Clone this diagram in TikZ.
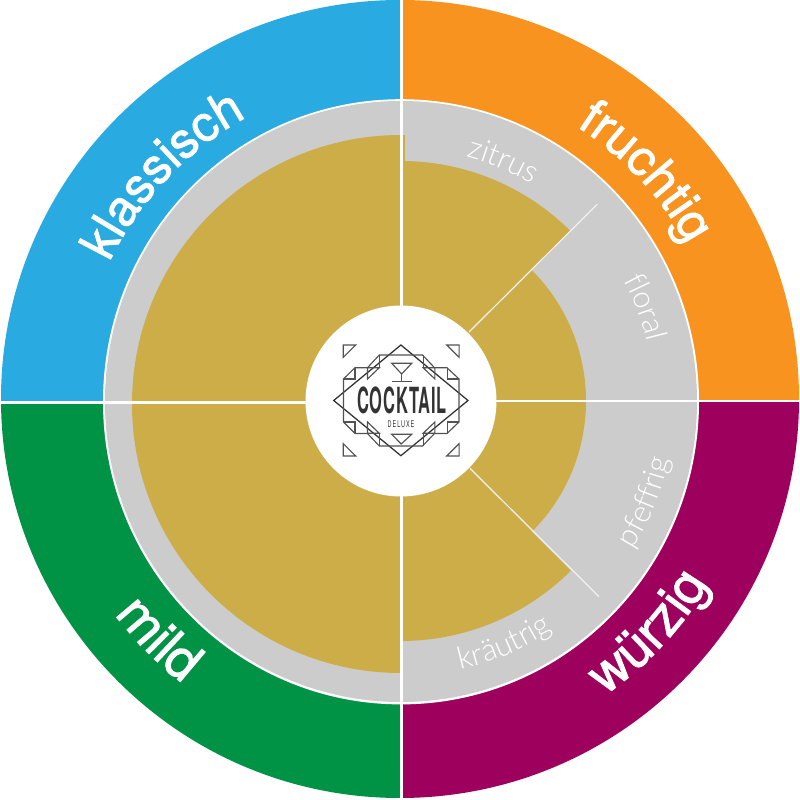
\documentclass[tikz,border=0pt]{standalone}
\usepackage{fontspec}
\setmainfont{TeX Gyre Heros}
\newfontfamily\heavyface[FakeBold=1.6]{TeX Gyre Heros}
\newfontfamily\lightface[UprightFont=* Light]{Lato}
\newfontfamily\logoface[LetterSpace=5]{TeX Gyre Heros Bold}
\newfontfamily\logosmall[LetterSpace=18]{TeX Gyre Heros}
\usetikzlibrary{decorations.text}
\definecolor{cblue}{HTML}{29ABE2}
\definecolor{corange}{HTML}{F7931E}
\definecolor{cgreen}{HTML}{009245}
\definecolor{cpurple}{HTML}{9E005D}
\definecolor{cgray}{HTML}{CCCCCC}
\definecolor{cgold}{HTML}{CCAD48}
\definecolor{cink}{HTML}{333333}
\definecolor{cpale}{HTML}{F1F1F1}
\def\bigfont{\color{white}\heavyface\fontsize{37.5}{37.5}\selectfont}
\def\bigfontb{\color{white}\heavyface\fontsize{40}{40}\selectfont}
\def\smallfont{\color{white}\lightface\fontsize{23}{23}\selectfont}
\tikzset{
  x=0.75pt,y=0.75pt,
  divider/.style={draw=white,line width=1.9pt},
  diag/.style={draw=cpale,line width=0.9pt},
  goldfill/.style={fill=cgold},
  logomain/.style={draw=cink,line width=0.95pt,line join=miter},
  logothin/.style={draw=cink!85,line width=0.85pt,line join=miter},
}
% #1 mid angle, #2 half span (sign gives direction), #3 radius, #4 format, #5 text
\newcommand{\curvedlabel}[5]{%
  \path[decorate,decoration={text along path,text align=center,
    text={|#4|#5}}]
    (c) ++({#1+#2}:#3) arc[start angle={#1+#2},end angle={#1-#2},radius=#3];}
\begin{document}
\begin{tikzpicture}
\useasboundingbox (0,0) rectangle (800,800);
\fill[white] (0,0) rectangle (800,800);
\coordinate (c) at (401,399);
% outer coloured ring
\begin{scope}\clip (0,398) rectangle (401,800); \fill[cblue] (400,401) circle[radius=399]; \end{scope}
\begin{scope}\clip (401,399) rectangle (800,800); \fill[corange] (400,401) circle[radius=399]; \end{scope}
\begin{scope}\clip (0,0) rectangle (401,398); \fill[cgreen] (400,401) circle[radius=399]; \end{scope}
\begin{scope}\clip (401,0) rectangle (800,399); \fill[cpurple] (400,401) circle[radius=399]; \end{scope}
% white ring and grey disc
\fill[white] (401,398.2) ellipse[x radius=298,y radius=302.6];
\fill[cgray] (401,398.5) ellipse[x radius=296,y radius=300.5];
% gold sectors
\begin{scope}\clip (0,0) rectangle (401,800); \fill[goldfill] (401,396) circle[radius=269]; \end{scope}
\fill[goldfill] (402,638) rectangle (405,665);
\fill[goldfill] (c) -- ++(90:240) arc[start angle=90,end angle=45,radius=240] -- cycle;
\fill[goldfill] (c) -- ++(45:185) arc[start angle=45,end angle=0,radius=185] -- cycle;
\fill[goldfill] (c) -- ++(0:185) arc[start angle=0,end angle=-45,radius=185] -- cycle;
\fill[goldfill] (c) -- ++(-45:240) arc[start angle=-45,end angle=-90,radius=240] -- cycle;
% thin diagonal dividers
\coordinate (d1a) at (469,468); \coordinate (d1b) at (597.3,595.7);
\coordinate (d2a) at (470,331.7); \coordinate (d2b) at (599,203.3);
\draw[diag] (d1a) -- (d1b);
\draw[diag] (d2a) -- (d2b);
% white cross
\draw[divider] (401.5,0) -- (401.5,800);
\draw[divider,line width=2.4pt] (0,397.7) -- (401,397.7);
\draw[divider,line width=1.8pt] (401,398.8) -- (800,398.8);
% hub
\fill[white] (401,399) circle[radius=95.5];
% logo
\begin{scope}[shift={(0,800)},yscale=-1]
\draw[logomain] (333.7,400.5) -- (400.9,345) -- (468,400.5) -- (400.9,455.7) -- cycle;
\draw[logothin] (343.5,379) -- (343.5,422) -- (355,433.5) -- (367.5,433.5) -- (379.3,446) -- (422.5,446) -- (434.5,433.5) -- (447,433.5) -- (459,422) -- (459,379) -- (447,367.7) -- (434.5,367.7) -- (422.5,355) -- (379.3,355) -- (367.5,367.7) -- (355,367.7) -- cycle;
\foreach \sx/\sy in {1/1,-1/1,1/-1,-1/-1}{
  \begin{scope}[shift={(401.2,400.5)},xscale=\sx,yscale=\sy]
    \draw[logothin] (-57.7,-21.5) -- (-46.2,-21.5) -- (-46.2,-32.8);
    \draw[logothin] (-33.7,-32.8) -- (-33.7,-21.5) -- (-21.9,-32.8) -- cycle;
    \draw[logothin] (-33.7,-32.8) -- (-21.9,-32.8) -- (-21.9,-45.5);
    \draw[logothin] (-57.9,-55.5) -- (-45.5,-55.5) -- (-57.9,-43.2) -- cycle;
  \end{scope}
}
\draw[logothin] (391.7,363.3) -- (411.7,363.3) -- (401.7,374) -- cycle;
\draw[logothin] (401.7,374) -- (401.7,381.7);
\draw[logothin] (391.7,381.7) -- (411.7,381.7);
\draw[logothin] (391.7,434.3) -- (411.7,434.3) -- (401.2,444) -- cycle;
\node[text=cink,inner sep=0pt,anchor=center] (cocktail) at (402,400.3)
  {\resizebox{67pt}{20pt}{\logoface COCKTAIL}};
\node[text=cink,inner sep=0pt,anchor=center] (deluxe) at (401,424)
  {\resizebox{20pt}{5pt}{\logosmall DELUXE}};
\end{scope}
% labels
\curvedlabel{136.5}{50}{323}{\bigfont}{klassisch}
\curvedlabel{43}{50}{326}{\bigfont}{fruchtig}
\curvedlabel{224.5}{-50}{357}{\bigfontb}{mild}
\curvedlabel{-43}{-50}{358}{\bigfontb}{würzig}
\curvedlabel{67}{35}{253}{\smallfont}{zitrus}
\curvedlabel{21}{35}{253}{\smallfont}{floral}
\curvedlabel{-67}{-35}{275}{\smallfont}{kräutrig}
\curvedlabel{-22.5}{-35}{275}{\smallfont}{pfeffrig}
\end{tikzpicture}
\end{document}
